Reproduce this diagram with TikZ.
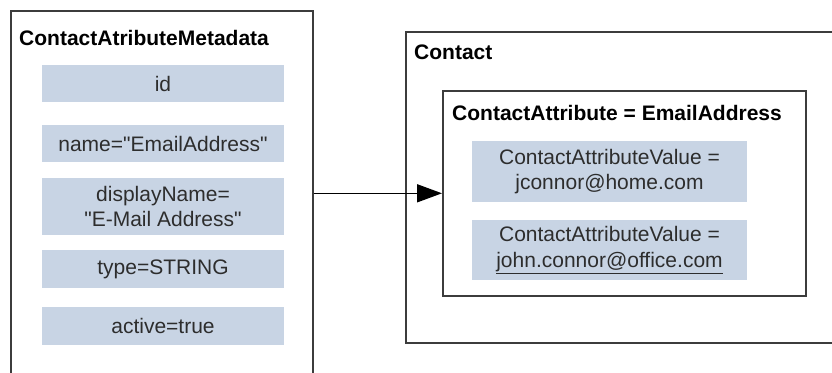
\documentclass[tikz,border=0pt]{standalone}
\usepackage{fontspec}
\setmainfont{Liberation Sans}
\usetikzlibrary{arrows.meta}
\definecolor{barfill}{RGB}{200,212,228}
\definecolor{txt}{RGB}{45,45,45}
\definecolor{frame}{RGB}{60,60,60}
\tikzset{
  frm/.style={draw=frame, line width=1.6pt, fill=white, inner sep=0pt, anchor=north west},
  ttl/.style={anchor=west, inner sep=0pt, text=black, font=\fontsize{21}{26}\selectfont\bfseries},
  bar/.style={fill=barfill, inner sep=0pt, align=center, text=txt, font=\fontsize{21}{25.5}\selectfont},
  conn/.style={line width=1.6pt, draw=black, -{Triangle[length=25pt,width=18pt]}}
}
\begin{document}
\begin{tikzpicture}[x=1pt,y=-1pt]
\useasboundingbox (0,0) rectangle (832,372);
\clip (0,0) rectangle (832,372);
% left box
\node[frm, minimum width=302pt, minimum height=400pt] (meta) at (10,10) {};
\node[ttl] (metaT) at (19,38) {ContactAtributeMetadata};
\node[bar, minimum width=242pt, minimum height=37pt] (id) at (163,83.5) {id};
\node[bar, minimum width=242pt, minimum height=37pt] (name) at (163,143.5) {name=\textquotedbl EmailAddress\textquotedbl};
\node[bar, minimum width=242pt, minimum height=57pt] (disp) at (163,206.5) {displayName=\\\textquotedbl E-Mail Address\textquotedbl};
\node[bar, minimum width=242pt, minimum height=38pt] (type) at (163,269) {type=STRING};
\node[bar, minimum width=242pt, minimum height=38pt] (act) at (163,326) {active=true};
% contact box
\node[frm, minimum width=460pt, minimum height=311pt] (contact) at (405,31) {};
\node[ttl] (contactT) at (414,52) {Contact};
\node[frm, minimum width=363pt, minimum height=205pt] (inner) at (442,90) {};
\node[ttl] (innerT) at (452,113) {ContactAttribute = EmailAddress};
\node[bar, minimum width=275pt, minimum height=61pt] (v1) at (609.5,171.5) {ContactAttributeValue =\\jconnor@home.com};
\node[bar, minimum width=275pt, minimum height=60pt] (v2) at (609.5,250) {ContactAttributeValue =\\\underline{john.connor@office.com}};
% connector
\draw[conn] (meta.east |- inner.west) -- (inner.west);
\end{tikzpicture}
\end{document}
